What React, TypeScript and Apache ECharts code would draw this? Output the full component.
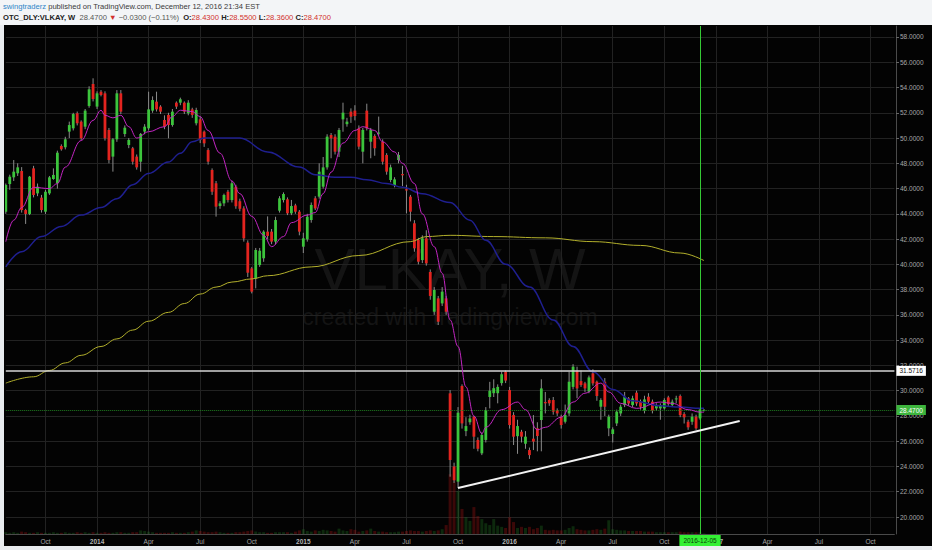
import React, { useEffect, useRef } from 'react';
import * as echarts from 'echarts';

// ---------- DATA ----------
const FIRST_WEEK = '2013-07-29';
const TOTAL_WEEKS = 225; // includes empty future weeks on the axis

const opens = [
  44.17, 46.36, 46.89, 47.21, 47.39, 44.30, 43.99, 47.60, 45.62, 45.28,
  44.17, 45.62, 46.76, 46.42, 49.37, 49.27, 50.51, 50.77, 51.96, 51.30,
  50.90, 52.54, 54.28, 52.49, 53.67, 53.54, 50.64, 48.53, 49.90, 53.54,
  50.32, 49.45, 49.19, 48.53, 48.13, 50.51, 50.77, 52.17, 52.88, 52.49,
  51.43, 51.83, 51.03, 52.80, 52.80, 52.80, 51.96, 52.27, 51.17, 51.48,
  50.51, 49.05, 47.47, 46.42, 44.62, 44.83, 45.75, 45.09, 46.15, 45.00,
  44.43, 41.72, 39.68, 38.89, 39.95, 40.48, 42.59, 42.59, 41.80, 44.25,
  45.09, 45.15, 44.04, 44.67, 44.17, 41.40, 41.98, 43.51, 45.23, 45.36,
  46.15, 47.68, 50.24, 50.11, 48.92, 51.48, 51.10, 52.09, 52.17, 50.77,
  48.92, 52.17, 49.71, 50.16, 50.37, 49.71, 48.66, 46.68, 46.28, 48.26,
  47.15, 45.95, 45.36, 43.25, 41.93, 40.34, 42.06, 39.40, 36.25, 37.31,
  36.91, 37.31, 29.79, 24.00, 22.80, 30.37, 26.80, 27.50, 27.94, 26.10,
  25.04, 26.10, 29.50, 29.80, 29.80, 30.60, 31.50, 30.05, 28.07, 26.40,
  26.75, 25.80, 25.30, 26.20, 27.02, 27.68, 29.10, 29.26, 29.26, 28.47,
  27.94, 27.54, 28.20, 30.30, 31.58, 30.76, 30.58, 29.92, 31.37, 30.71,
  28.73, 30.71, 27.02, 26.57, 27.41, 28.20, 28.86, 29.39, 28.86, 29.84,
  29.13, 28.42, 29.52, 29.13, 28.60, 28.60, 28.60, 29.47, 28.86, 29.31,
  29.58, 28.15, 27.54, 27.54, 27.94, 27.81, 28.43,
];
const closes = [
  46.28, 46.94, 47.34, 47.68, 44.30, 43.99, 46.94, 45.49, 46.15, 44.30,
  45.75, 46.89, 47.08, 48.84, 49.11, 49.90, 51.03, 51.90, 51.17, 49.98,
  52.17, 53.86, 53.09, 53.54, 53.41, 49.98, 48.26, 49.90, 53.54, 52.09,
  50.82, 49.85, 48.13, 47.68, 50.32, 50.90, 52.27, 53.01, 52.27, 52.09,
  50.90, 51.03, 52.09, 52.49, 53.07, 52.09, 52.80, 51.83, 52.22, 49.85,
  49.58, 48.13, 45.75, 44.57, 44.83, 45.49, 45.09, 46.42, 44.60, 44.40,
  42.06, 39.34, 37.84, 41.14, 41.08, 42.59, 42.25, 41.80, 43.51, 45.23,
  45.57, 44.04, 44.62, 44.17, 42.59, 42.06, 43.77, 44.70, 44.43, 47.34,
  47.68, 50.11, 49.98, 48.92, 50.64, 52.01, 51.30, 51.69, 51.74, 49.32,
  50.64, 50.77, 50.64, 49.19, 50.43, 48.13, 47.34, 47.68, 46.73, 48.66,
  47.05, 45.85, 44.17, 41.27, 40.21, 42.06, 40.08, 37.50, 37.97, 35.46,
  37.84, 36.25, 24.51, 22.90, 28.26, 27.41, 27.20, 27.80, 26.36, 25.40,
  26.49, 28.47, 30.00, 30.20, 30.30, 31.30, 30.80, 27.28, 26.36, 27.20,
  26.36, 26.36, 24.90, 25.97, 26.41, 30.18, 29.00, 29.00, 28.34, 28.20,
  27.28, 28.07, 30.71, 31.90, 30.18, 30.45, 30.18, 31.05, 30.58, 29.58,
  29.26, 28.73, 27.94, 26.94, 28.34, 28.73, 29.52, 28.99, 29.39, 28.99,
  28.73, 29.31, 29.13, 28.42, 28.86, 28.86, 29.26, 28.94, 29.13, 29.39,
  28.07, 27.89, 27.10, 27.94, 27.02, 28.50, 28.47,
];
const lows = [
  44.0, 45.9, 46.6, 47.0, 44.1, 43.2, 43.9, 45.3, 45.4, 44.1,
  43.99, 45.5, 46.7, 46.0, 49.0, 49.1, 50.0, 50.6, 51.0, 49.85,
  50.7, 52.4, 52.9, 52.3, 53.3, 49.8, 48.0, 47.34, 49.7, 51.9,
  50.1, 49.2, 47.9, 47.5, 47.34, 50.3, 50.6, 52.0, 52.1, 51.9,
  50.7, 49.98, 50.9, 52.3, 52.6, 51.9, 51.8, 51.6, 51.0, 49.6,
  49.3, 47.9, 45.5, 43.78, 44.4, 44.6, 44.9, 44.9, 44.4, 44.2,
  41.8, 39.0, 37.7, 38.1, 39.8, 40.2, 42.0, 41.6, 41.6, 44.1,
  44.9, 43.9, 43.9, 44.0, 42.3, 40.9, 41.8, 43.3, 44.3, 45.2,
  46.0, 47.5, 48.4, 48.7, 48.5, 50.5, 50.9, 51.2, 51.4, 49.1,
  48.0, 50.6, 48.4, 48.6, 50.2, 47.9, 47.1, 46.5, 46.1, 48.0,
  46.2, 44.04, 43.4, 41.0, 40.0, 40.1, 39.9, 37.2, 36.0, 35.2,
  36.7, 36.0, 23.19, 22.7, 22.29, 27.0, 26.4, 27.3, 25.4, 25.2,
  24.9, 25.9, 28.6, 29.5, 29.0, 30.4, 30.6, 27.0, 25.7, 25.0,
  25.9, 25.4, 24.6, 25.3, 25.2, 25.2, 28.2, 28.8, 28.1, 28.0,
  27.0, 27.4, 28.0, 30.1, 29.4, 30.3, 29.9, 29.8, 30.4, 29.2,
  27.7, 28.0, 26.4, 25.9, 27.2, 28.0, 28.7, 28.8, 28.7, 28.8,
  28.5, 28.2, 29.0, 28.2, 28.4, 27.7, 28.5, 28.8, 28.7, 29.0,
  27.9, 27.4, 26.9, 27.3, 26.9, 27.7, 28.36,
];
const highs = [
  46.4, 47.1, 48.26, 48.0, 47.7, 44.4, 47.0, 47.8, 46.4, 45.5,
  45.9, 47.0, 47.6, 49.0, 49.5, 50.1, 51.3, 52.0, 52.1, 51.4,
  52.3, 54.1, 54.73, 53.7, 53.8, 53.7, 50.8, 50.0, 53.8, 53.8,
  51.0, 50.0, 49.3, 48.7, 50.4, 51.1, 53.67, 53.3, 53.67, 52.6,
  51.8, 52.0, 52.3, 52.9, 53.2, 52.9, 53.0, 52.4, 52.4, 51.7,
  50.6, 49.2, 47.6, 46.6, 45.0, 45.6, 45.9, 46.6, 46.3, 45.2,
  44.6, 41.9, 39.8, 41.3, 41.3, 42.7, 43.8, 42.8, 43.77, 45.4,
  45.7, 45.3, 45.1, 44.8, 44.3, 42.5, 44.0, 44.9, 45.4, 48.0,
  48.5, 50.3, 50.4, 50.3, 50.8, 52.8, 51.6, 52.35, 52.6, 51.0,
  50.8, 52.72, 50.8, 50.3, 51.7, 49.9, 48.8, 47.9, 46.9, 48.9,
  47.8, 46.3, 45.5, 43.5, 42.1, 42.3, 42.7, 39.6, 38.2, 37.5,
  38.2, 37.5, 30.05, 24.3, 28.7, 30.5, 27.9, 28.1, 28.0, 26.3,
  26.7, 28.7, 30.7, 30.9, 30.5, 31.5, 31.6, 30.3, 28.3, 27.7,
  26.9, 26.8, 25.5, 28.07, 27.5, 30.9, 29.9, 29.4, 29.5, 28.6,
  28.1, 28.9, 31.5, 32.1, 31.9, 31.6, 30.7, 31.2, 31.7, 30.8,
  29.4, 31.0, 28.1, 27.1, 28.5, 28.9, 29.9, 29.5, 29.6, 30.0,
  29.3, 29.6, 29.8, 29.3, 29.0, 29.0, 29.4, 29.6, 29.3, 29.6,
  29.7, 28.3, 27.7, 28.2, 28.1, 28.6, 28.55,
];
const volumes = [
  3, 2, 3, 2, 4, 3, 2, 2, 3, 2,
  2, 2, 3, 2, 2, 3, 2, 2, 3, 2,
  3, 2, 3, 2, 2, 3, 2, 2, 3, 3,
  2, 2, 3, 3, 6, 5, 4, 3, 2, 2,
  2, 2, 3, 2, 2, 2, 3, 4, 6, 5,
  4, 3, 3, 4, 3, 2, 2, 2, 3, 3,
  4, 5, 6, 4, 3, 3, 2, 2, 3, 3,
  3, 3, 2, 4, 6, 8, 5, 4, 6, 5,
  7, 6, 5, 4, 9, 6, 5, 8, 7, 4,
  5, 6, 9, 5, 4, 4, 3, 3, 3, 4,
  4, 5, 6, 5, 5, 4, 5, 6, 5, 6,
  8, 15, 100, 88, 72, 42, 28, 22, 45, 30,
  25, 18, 15, 25, 14, 12, 10, 28, 20, 10,
  12, 10, 12, 8, 10, 14, 7, 6, 7, 6,
  6, 7, 10, 13, 8, 7, 6, 6, 7, 8,
  7, 9, 23, 8, 7, 6, 6, 5, 5, 5,
  5, 4, 4, 4, 3, 3, 3, 3, 3, 3,
  4, 3, 3, 3, 3, 3, 1,
];

// moving-average lines: [week index, value]
const maFast: [number, number][] = [
  [0, 41.8], [2, 43.5], [4, 44.5], [7, 46.1], [11, 46.0], [13, 46.4], [15, 47.7], [19, 49.8],
  [22, 51.4], [24, 52.2], [25, 51.8], [27, 51.6], [29, 51.8], [31, 50.9], [33, 50.0], [36, 50.5],
  [40, 50.9], [42, 51.7], [44, 52.2], [47, 52.1], [49, 51.7], [51, 50.6], [54, 48.8], [57, 46.6],
  [59, 45.6], [62, 43.8], [65, 42.3], [67, 41.4], [70, 42.2], [72, 43.3], [76, 43.9], [78, 44.1],
  [80, 45.6], [82, 47.3], [85, 49.6], [88, 50.6], [90, 50.9], [93, 50.6], [95, 49.7], [98, 48.9],
  [100, 48.0], [103, 46.4], [105, 44.0], [108, 41.4], [110, 39.3], [112, 35.6], [114, 33.5],
  [116, 30.3], [118, 28.0], [120, 26.6], [121, 27.1], [125, 28.5], [129, 29.1], [131, 28.5],
  [134, 26.9], [136, 27.1], [140, 27.9], [143, 29.1], [146, 29.8], [150, 30.6], [152, 29.9],
  [155, 29.0], [159, 28.6], [165, 29.1], [168, 29.0], [172, 28.5], [175, 28.3], [176, 28.3],
];
const maMid: [number, number][] = [
  [0, 39.8], [4, 41.0], [9, 42.2], [14, 43.0], [19, 43.9], [24, 44.5], [28, 45.2], [32, 46.3],
  [36, 47.2], [41, 48.1], [44, 48.8], [47, 49.7], [50, 50.0], [59, 50.0], [66, 48.9], [74, 47.7],
  [78, 47.1], [83, 46.9], [87, 46.9], [91, 46.7], [96, 46.4], [100, 46.1], [105, 45.6], [112, 44.9],
  [117, 43.5], [121, 41.9], [126, 40.0], [132, 38.2], [138, 35.6], [143, 33.5], [148, 31.5],
  [153, 30.1], [158, 29.2], [165, 28.8], [170, 28.7], [175, 28.6], [176, 28.6],
];
const maSlow: [number, number][] = [
  [0, 30.6], [7, 31.1], [11, 31.6], [15, 32.2], [19, 32.8], [24, 33.5], [28, 34.1], [32, 34.8],
  [36, 35.5], [41, 36.2], [45, 36.9], [49, 37.65], [53, 38.2], [57, 38.6], [62, 38.85], [66, 39.1],
  [77, 39.8], [89, 40.7], [102, 41.8], [106, 42.2], [112, 42.3], [123, 42.2], [136, 42.1],
  [148, 41.8], [160, 41.5], [170, 40.9], [176, 40.3],
];

const resistanceLevel = 31.5716;
const lastPrice = 28.47;
const cursorWeek = 175;
const trendStart: [number, number] = [114, 22.29];
const trendEnd: [number, number] = [185, 27.6];

const MONTHS = ['Jan', 'Feb', 'Mar', 'Apr', 'May', 'Jun', 'Jul', 'Aug', 'Sep', 'Oct', 'Nov', 'Dec'];

// ---------- DERIVED ----------
const weekDates: string[] = [];
{
  const t0 = Date.parse(FIRST_WEEK + 'T00:00:00Z');
  for (let i = 0; i < TOTAL_WEEKS; i++) {
    weekDates.push(new Date(t0 + i * 7 * 86400000).toISOString().slice(0, 10));
  }
}
const monthOf = (s: string) => parseInt(s.slice(5, 7), 10) - 1;
const labelWeeks = new Set<number>();
for (let i = 1; i < weekDates.length; i++) {
  const m = monthOf(weekDates[i]);
  if (m % 3 === 0 && m !== monthOf(weekDates[i - 1])) labelWeeks.add(i);
}

const FONT = '"Liberation Sans", Arial, sans-serif';
const UP = '#3cc43c';
const DOWN = '#e3241f';

export default function App() {
  const ref = useRef<HTMLDivElement>(null);
  useEffect(() => {
    if (!ref.current) return;
    const chart = echarts.init(ref.current, undefined, { renderer: 'svg' });

    const candleData = opens.map((o, i) => [i, o, closes[i], lows[i], highs[i]]);
    const volData = volumes.map((v, i) => ({
      value: v,
      itemStyle: { color: closes[i] >= opens[i] ? 'rgba(40,140,40,0.28)' : 'rgba(160,20,20,0.36)' },
    }));

    const option: any = {
      animation: false,
      textStyle: { fontFamily: FONT },
      grid: { left: 5.8, right: 37.6, top: 26, bottom: 16, containLabel: false, outerBoundsMode: 'none' },
      xAxis: {
        type: 'category',
        data: weekDates,
        boundaryGap: false,
        axisLine: { show: true, lineStyle: { color: '#4a4a4a', width: 1 } },
        axisTick: { show: false },
        axisLabel: {
          interval: (i: number) => labelWeeks.has(i),
          formatter: (v: string) => {
            const m = monthOf(v);
            return m === 0 ? '{y|' + v.slice(0, 4) + '}' : MONTHS[m];
          },
          color: '#a6a6a6',
          fontSize: 6.5,
          fontFamily: FONT,
          margin: 4,
          rich: { y: { fontWeight: 'bold', fontSize: 6.5, color: '#b4b4b4', fontFamily: FONT } },
        },
        splitLine: {
          show: true,
          interval: (i: number) => labelWeeks.has(i),
          lineStyle: { color: '#222222', width: 1 },
        },
      },
      yAxis: [
        {
          type: 'value',
          position: 'right',
          min: 18.6542,
          max: 58.8708,
          splitNumber: 20,
          minInterval: 2,
          maxInterval: 2,
          offset: 1.6,
          axisLine: { show: true, lineStyle: { color: '#4a4a4a' } },
          axisTick: { show: true, length: 3, lineStyle: { color: '#666' } },
          axisLabel: {
            color: '#a8a8a8',
            fontSize: 6.5,
            fontFamily: FONT,
            margin: 4,
            showMinLabel: false,
            showMaxLabel: false,
            formatter: (v: number) => v.toFixed(4),
          },
          splitLine: { show: true, showMinLine: false, showMaxLine: false, lineStyle: { color: '#222222' } },
        },
        { type: 'value', min: 0, max: 850, show: false, splitLine: { show: false } },
      ],
      graphic: {
        elements: [
          {
            type: 'text', z: -1, x: 450, y: 269,
            style: { text: 'VLKAY, W', fill: '#141414', fontSize: 60, fontFamily: FONT, align: 'center', verticalAlign: 'middle' },
          },
          {
            type: 'text', z: -1, x: 450, y: 317,
            style: { text: 'created with tradingview.com', fill: '#141414', fontSize: 23, fontFamily: FONT, align: 'center', verticalAlign: 'middle' },
          },
          { type: 'rect', z: 50, shape: { x: 0, y: 0, width: 932, height: 25 }, style: { fill: '#f3f5f7' } },
          { type: 'rect', z: 50, shape: { x: 0, y: 25, width: 4, height: 525 }, style: { fill: '#e9ecef' } },
          { type: 'rect', z: 50, shape: { x: 0, y: 546, width: 932, height: 4 }, style: { fill: '#e9ecef' } },
          {
            type: 'text', z: 51, x: 3, y: 6.5,
            style: {
              text: '{u|swingtraderz} {t|published on TradingView.com, December 12, 2016 21:34 EST}',
              verticalAlign: 'middle',
              fontSize: 7.6,
              fontFamily: FONT,
              rich: {
                u: { fill: '#2e86c8', fontSize: 7.6, fontFamily: FONT },
                t: { fill: '#3a3a3a', fontSize: 7.6, fontFamily: FONT },
              },
            },
          },
          {
            type: 'text', z: 51, x: 3, y: 17,
            style: {
              text: '{s|OTC_DLY:VLKAY, W}  {g|28.4700} {r|▼} {g|−0.0300 (−0.11%)}  {s|O:}{r|28.4300} {s|H:}{r|28.5500} {s|L:}{r|28.3600} {s|C:}{r|28.4700}',
              verticalAlign: 'middle',
              fontSize: 7.6,
              fontFamily: FONT,
              rich: {
                s: { fill: '#222', fontWeight: 'bold', fontSize: 7.6, fontFamily: FONT },
                g: { fill: '#555', fontSize: 7.6, fontFamily: FONT },
                r: { fill: '#d2312b', fontSize: 7.6, fontFamily: FONT },
              },
            },
          },
        ],
      },
      series: [
        {
          type: 'bar',
          name: 'Volume',
          yAxisIndex: 1,
          data: volData,
          barWidth: 3,
          z: 1,
          silent: true,
        },
        {
          type: 'line', name: 'MA slow', data: maSlow, showSymbol: false, smooth: 0.4, smoothMonotone: 'x',
          lineStyle: { color: '#b3b02c', width: 1 }, z: 4, silent: true,
        },
        {
          type: 'line', name: 'MA mid', data: maMid, showSymbol: false, smooth: 0.4, smoothMonotone: 'x',
          lineStyle: { color: '#1f1f8f', width: 1.5 }, z: 4, silent: true,
        },
        {
          type: 'custom',
          name: 'VLKAY',
          data: candleData,
          encode: { x: 0, y: [1, 2, 3, 4] },
          clip: true,
          z: 3,
          renderItem: (_p: any, api: any) => {
            const i = api.value(0);
            const o = api.value(1);
            const c = api.value(2);
            const l = api.value(3);
            const h = api.value(4);
            const pO = api.coord([i, o]);
            const pC = api.coord([i, c]);
            const pL = api.coord([i, l]);
            const pH = api.coord([i, h]);
            const w = 2.8;
            const top = Math.min(pO[1], pC[1]);
            const hh = Math.max(Math.abs(pO[1] - pC[1]), 1);
            return {
              type: 'group',
              children: [
                { type: 'line', shape: { x1: pH[0], y1: pH[1], x2: pL[0], y2: pL[1] }, style: { stroke: '#8c8c8c', lineWidth: 1 } },
                { type: 'rect', shape: { x: pO[0] - w / 2, y: top, width: w, height: hh }, style: { fill: c >= o ? UP : DOWN } },
              ],
            };
          },
          markLine: {
            silent: true,
            symbol: ['none', 'none'],
            animation: false,
            data: [
              {
                yAxis: resistanceLevel,
                lineStyle: { color: '#d6d6d6', width: 1.5, type: 'solid' },
                label: {
                  show: true, position: 'end', distance: 2, formatter: resistanceLevel.toFixed(4),
                  backgroundColor: '#ffffff', color: '#111', fontSize: 6.5, fontFamily: FONT, padding: [1.5, 3],
                },
              },
              {
                yAxis: lastPrice,
                lineStyle: { color: '#1f7d1f', width: 1, type: 'dotted' },
                label: {
                  show: true, position: 'end', distance: 2, formatter: lastPrice.toFixed(4),
                  backgroundColor: '#3db53d', color: '#ffffff', fontSize: 6.5, fontFamily: FONT, padding: [1.5, 3],
                },
              },
              {
                xAxis: weekDates[cursorWeek],
                lineStyle: { color: '#35c935', width: 1, type: 'solid' },
                label: {
                  show: true, position: 'start', distance: 1, formatter: weekDates[cursorWeek],
                  backgroundColor: '#33f033', color: '#0b3d0b', fontSize: 6.5, fontFamily: FONT, padding: [2, 4],
                },
              },
              [
                { coord: [weekDates[trendStart[0]], trendStart[1]], lineStyle: { color: '#f2f2f2', width: 2, type: 'solid' }, label: { show: false } },
                { coord: [weekDates[trendEnd[0]], trendEnd[1]] },
              ],
            ],
          },
        },
        {
          type: 'line', name: 'MA fast', data: maFast, showSymbol: false, smooth: 0.4, smoothMonotone: 'x',
          lineStyle: { color: '#c326c3', width: 1 }, z: 5, silent: true,
        },
      ],
    };
    chart.setOption(option);
    return () => chart.dispose();
  }, []);

  return (
    <div
      ref={ref}
      style={{ position: 'absolute', left: 0, top: 0, width: 932, height: 550, background: '#030303' }}
    />
  );
}
